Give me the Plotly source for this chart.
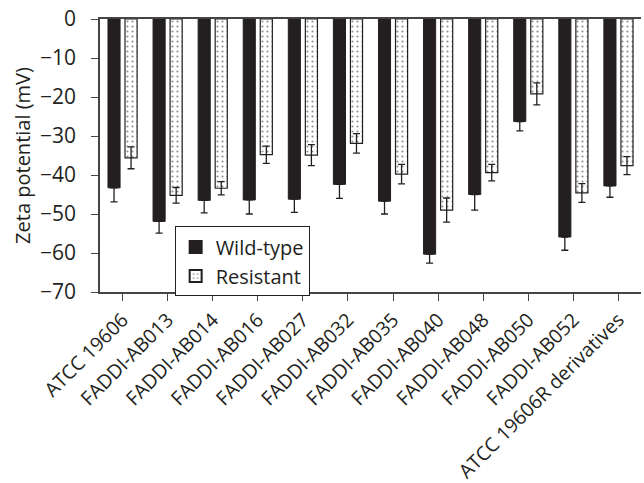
import plotly.graph_objects as go

categories = ["ATCC 19606", "FADDI-AB013", "FADDI-AB014", "FADDI-AB016", "FADDI-AB027",
              "FADDI-AB032", "FADDI-AB035", "FADDI-AB040", "FADDI-AB048", "FADDI-AB050",
              "FADDI-AB052", "ATCC 19606R derivatives"]
wild_type = [-43.3, -51.9, -46.5, -46.4, -46.2, -42.4, -46.7, -60.3, -45.0, -26.3, -55.9, -42.8]
wild_type_err = [3.6, 3.0, 3.2, 3.6, 3.4, 3.6, 3.3, 2.3, 4.0, 2.4, 3.4, 2.9]
resistant = [-35.6, -45.2, -43.4, -34.8, -34.9, -31.9, -39.8, -49.0, -39.4, -19.2, -44.6, -37.6]
resistant_err = [2.8, 2.0, 1.7, 2.2, 2.7, 2.5, 2.5, 3.1, 2.1, 2.8, 2.4, 2.3]
y_ticks = [0, -10, -20, -30, -40, -50, -60, -70]

font = "Open Sans"
axis_col = "#444444"

fig = go.Figure()
fig.add_trace(go.Bar(
    name="Wild-type", x=categories, y=wild_type,
    marker=dict(color="#231f20", line=dict(color="#231f20", width=1)),
    error_y=dict(type="data", array=[0] * len(wild_type_err), arrayminus=wild_type_err,
                 symmetric=False, color="#231f20", thickness=1.3, width=3.5),
))
fig.add_trace(go.Bar(
    name="Resistant", x=categories, y=resistant,
    marker=dict(color="white", line=dict(color="#231f20", width=1.2),
                pattern=dict(shape=".", fgcolor="#231f20", bgcolor="white", size=5, solidity=0.15)),
    error_y=dict(type="data", array=resistant_err, color="#231f20", thickness=1.3, width=3.5),
))

fig.update_layout(
    width=644, height=483,
    margin=dict(l=100, r=3, t=19, b=191, autoexpand=False),
    paper_bgcolor="white", plot_bgcolor="white",
    barmode="group", bargap=0.244, bargroupgap=0.29,
    font=dict(family=font, size=20, color="#231f20"),
    showlegend=True,
    legend=dict(x=0.138, y=0.24, xanchor="left", yanchor="top",
                bordercolor="#231f20", borderwidth=1, bgcolor="white",
                font=dict(size=20), tracegroupgap=0, itemsizing="constant",
                itemwidth=30),
    xaxis=dict(showline=True, linecolor=axis_col, linewidth=1.5, mirror=True,
               ticks="outside", ticklen=7, tickcolor=axis_col, tickwidth=1.3,
               tickangle=-45, tickfont=dict(size=19.5), showgrid=False,
               automargin=False, range=[-0.5, 11.5]),
    yaxis=dict(showline=True, linecolor=axis_col, linewidth=1.5,
               ticks="outside", ticklen=7, tickcolor=axis_col, tickwidth=1.3,
               ticklabelstandoff=11, automargin=False,
               range=[-70, 0], tickvals=y_ticks, showgrid=False, zeroline=False,
               title=dict(text="Zeta potential (mV)", font=dict(size=20), standoff=4),
               tickfont=dict(size=21)),
)

fig.write_html("out.html")
